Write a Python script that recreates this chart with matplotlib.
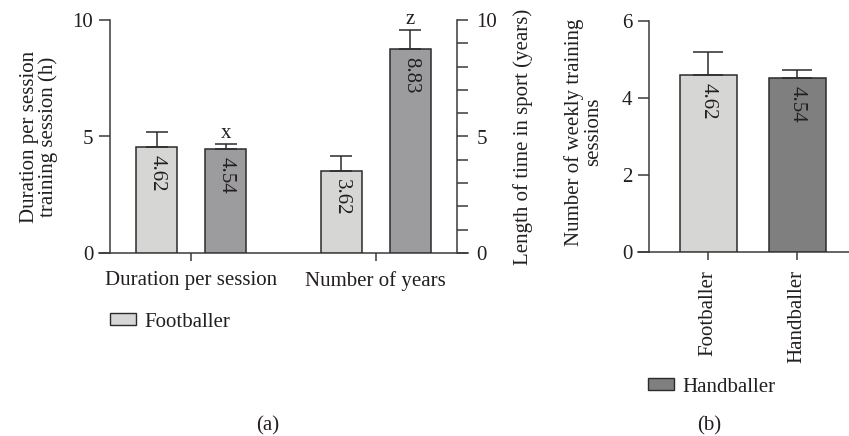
import numpy as np
import matplotlib
matplotlib.use("Agg")
import matplotlib.pyplot as plt
from matplotlib.patches import Patch
from matplotlib.ticker import MultipleLocator

plt.rcParams['font.family'] = ['Liberation Serif', 'DejaVu Serif']
plt.rcParams['font.size'] = 15

# %% data
groups_a = ['Duration per session', 'Number of years']
foot_a = [4.55, 3.52]
hand_a = [4.46, 8.76]
foot_a_err = [0.65, 0.64]
hand_a_err = [0.22, 0.81]
foot_a_lbl = ['4.62', '3.62']
hand_a_lbl = ['4.54', '8.83']
hand_a_sig = ['x', 'z']

players_b = ['Footballer', 'Handballer']
sessions_b = [4.60, 4.52]
sessions_b_err = [0.59, 0.21]
sessions_b_lbl = ['4.62', '4.54']

c_foot = '#d6d6d4'
c_hand_a = '#9c9c9e'
c_hand_b = '#7f7f7f'
c_edge = '#2b2b2b'
c_txt = '#231f20'

fig = plt.figure(figsize=(8.49, 4.36), dpi=100)


def style_axis(ax):
    for s in ['top', 'right']:
        ax.spines[s].set_visible(False)
    for s in ['left', 'bottom', 'right']:
        ax.spines[s].set_linewidth(1.1)
        ax.spines[s].set_color('#3a3a3a')
    ax.tick_params(axis='y', length=8, width=1.1, color='#3a3a3a',
                   labelcolor=c_txt, pad=4)
    ax.tick_params(axis='x', length=6, width=1.1, color='#3a3a3a',
                   labelcolor=c_txt, pad=7)


# %% panel (a)
ax = fig.add_axes([99 / 849, 1 - 253 / 436, 369 / 849, 233 / 436])
x = np.arange(len(groups_a))
off = 0.1875
w = 0.223
ax.bar(x - off, foot_a, w, color=c_foot, edgecolor=c_edge, linewidth=1.1,
       yerr=[np.zeros(2), foot_a_err], error_kw=dict(ecolor=c_edge, elinewidth=1.1,
                                                     capsize=8, capthick=1.1),
       zorder=3)
ax.bar(x + off, hand_a, w, color=c_hand_a, edgecolor=c_edge, linewidth=1.1,
       yerr=[np.zeros(2), hand_a_err], error_kw=dict(ecolor=c_edge, elinewidth=1.1,
                                                     capsize=8, capthick=1.1),
       zorder=3)
for i in range(len(groups_a)):
    ax.annotate(foot_a_lbl[i], (x[i] - off, foot_a[i]), xytext=(0, -6),
                textcoords='offset points', rotation=-90, ha='center',
                va='top', color=c_txt)
    ax.annotate(hand_a_lbl[i], (x[i] + off, hand_a[i]), xytext=(0, -6),
                textcoords='offset points', rotation=-90, ha='center',
                va='top', color=c_txt)
    ax.annotate(hand_a_sig[i], (x[i] + off, hand_a[i] + hand_a_err[i]),
                xytext=(0, 1), textcoords='offset points', ha='center',
                va='bottom', color=c_txt)

ax.set_xlim(-0.5, 1.5)
ax.set_ylim(0, 10)
ax.set_yticks([0, 5, 10])
ax.set_xticks(x)
ax.set_xticklabels(groups_a)
style_axis(ax)
ax.spines['left'].set_position(('data', -0.44))
ax.set_ylabel('Duration per session\ntraining session (h)', color=c_txt,
              linespacing=1.0)
ax.yaxis.set_label_coords(-0.11, 0.5)

ax2 = ax.twinx()
ax2.set_ylim(0, 10)
ax2.set_yticks([0, 5, 10])
ax2.yaxis.set_minor_locator(MultipleLocator(1))
for s in ['top', 'left', 'bottom']:
    ax2.spines[s].set_visible(False)
ax2.spines['right'].set_position(('data', 1.44))
ax2.spines['right'].set_linewidth(1.1)
ax2.spines['right'].set_color('#3a3a3a')
ax2.tick_params(axis='y', which='both', length=8, width=1.1, color='#3a3a3a',
                labelcolor=c_txt, pad=6)
ax2.set_ylabel('Length of time in sport (years)', color=c_txt)
ax2.yaxis.set_label_coords(1.122, 0.5)

fig.legend(handles=[Patch(facecolor=c_foot, edgecolor=c_edge, linewidth=1.0,
                          label='Footballer')],
           loc='center left', bbox_to_anchor=(110 / 849, 1 - 322 / 436),
           frameon=False, handlelength=1.25, handleheight=0.5,
           handletextpad=0.4, borderpad=0, borderaxespad=0,
           labelcolor=c_txt)

# %% panel (b)
bx = fig.add_axes([638 / 849, 1 - 252 / 436, 211 / 849, 231 / 436])
xb = np.arange(len(players_b))
bx.bar(xb, sessions_b, 0.64, color=[c_foot, c_hand_b], edgecolor=c_edge,
       linewidth=1.1, yerr=[np.zeros(2), sessions_b_err],
       error_kw=dict(ecolor=c_edge, elinewidth=1.1, capsize=11, capthick=1.1),
       zorder=3)
for i in range(len(players_b)):
    bx.annotate(sessions_b_lbl[i], (xb[i], sessions_b[i]), xytext=(0, -6),
                textcoords='offset points', rotation=-90, ha='center',
                va='top', color=c_txt)
bx.set_xlim(-0.79, 1.58)
bx.set_ylim(0, 6)
bx.set_yticks([0, 2, 4, 6])
bx.set_xticks(xb)
bx.set_xticklabels(players_b, rotation=90)
style_axis(bx)
bx.tick_params(axis='x', length=6, pad=7)
bx.spines['left'].set_position(('data', -0.668))
bx.set_ylabel('Number of weekly training\nsessions', color=c_txt,
              linespacing=1.0)
bx.yaxis.set_label_coords(-0.166, 0.52)

fig.legend(handles=[Patch(facecolor=c_hand_b, edgecolor=c_edge, linewidth=1.0,
                          label='Handballer')],
           loc='center left', bbox_to_anchor=(648 / 849, 1 - 387 / 436),
           frameon=False, handlelength=1.25, handleheight=0.5,
           handletextpad=0.4, borderpad=0, borderaxespad=0,
           labelcolor=c_txt)

fig.text(268 / 849, 1 - 426 / 436, '(a)', ha='center', va='center', color=c_txt)
fig.text(709 / 849, 1 - 426 / 436, '(b)', ha='center', va='center', color=c_txt)

fig.savefig('out.png', dpi=100)
